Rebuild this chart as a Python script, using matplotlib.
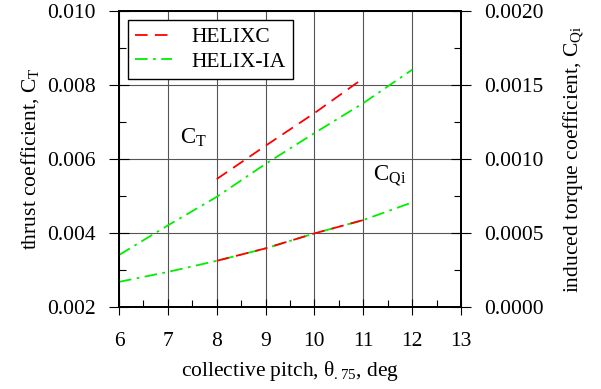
import matplotlib.pyplot as plt
from matplotlib.ticker import MultipleLocator, FormatStrFormatter

plt.rcParams["font.family"] = ["Liberation Serif", "DejaVu Serif"]
plt.rcParams["mathtext.fontset"] = "custom"
plt.rcParams["mathtext.rm"] = "Liberation Serif"
plt.rcParams["mathtext.it"] = "Liberation Serif"

# thrust coefficient (left axis)
pitch_c = [8, 9, 10, 11]
ct_helixc = [0.00545, 0.00635, 0.00723, 0.00817]
pitch_ia = [6, 7, 8, 9, 10, 11, 12]
ct_helixia = [0.00340, 0.00420, 0.00497, 0.00586, 0.00669, 0.00750, 0.00840]

# induced torque coefficient (right axis)
cq_helixc = [0.000311, 0.000395, 0.000496, 0.000586]
cq_helixia = [0.000169, 0.000236, 0.000311, 0.000395, 0.000496, 0.000586, 0.000705]

RED = "#ff0000"
GREEN = "#00ee00"
FS = 15.5

fig = plt.figure(figsize=(6.01, 3.89), dpi=100)
ax = fig.add_axes([0.198, 0.211, 0.569, 0.762])
ax2 = ax.twinx()

ax.plot(pitch_c, ct_helixc, color=RED, lw=1.3, dashes=(7, 4), label="HELIXC", zorder=3)
ax.plot(pitch_ia, ct_helixia, color=GREEN, lw=1.3, dashes=(7, 3, 1.5, 3), label="HELIX-IA", zorder=2)
ax2.plot(pitch_c, cq_helixc, color=RED, lw=1.3, dashes=(7, 4), zorder=3)
ax2.plot(pitch_ia, cq_helixia, color=GREEN, lw=1.3, dashes=(7, 3, 1.5, 3), zorder=2)

ax.set_xlim(6, 13)
ax.set_ylim(0.002, 0.010)
ax2.set_ylim(0.0, 0.002)

ax.xaxis.set_major_locator(MultipleLocator(1))
ax.xaxis.set_minor_locator(MultipleLocator(0.5))
ax.yaxis.set_major_locator(MultipleLocator(0.002))
ax.yaxis.set_minor_locator(MultipleLocator(0.001))
ax.yaxis.set_major_formatter(FormatStrFormatter("%.3f"))
ax2.yaxis.set_major_locator(MultipleLocator(0.0005))
ax2.yaxis.set_minor_locator(MultipleLocator(0.00025))
ax2.yaxis.set_major_formatter(FormatStrFormatter("%.4f"))

ax.grid(True, which="major", color="#555555", lw=0.8)
ax.set_axisbelow(True)

for a in (ax, ax2):
    a.tick_params(which="major", direction="inout", length=14, width=0.8, labelsize=FS, pad=10)
    a.tick_params(which="minor", direction="in", length=5, width=0.8)
    for s in a.spines.values():
        s.set_linewidth(1.3)
ax.tick_params(axis="x", which="major", length=12, pad=12)

ax.set_xlabel(r"collective pitch, $\theta_{.75}$, deg", fontsize=FS, labelpad=6)
ax.set_ylabel(r"thrust coefficient, C$_\mathrm{T}$", fontsize=FS, labelpad=4)
ax2.set_ylabel(r"induced torque coefficient, C$_\mathrm{Qi}$", fontsize=FS, labelpad=12)

ax.text(7.25, 0.0064, r"C$_\mathrm{T}$", fontsize=FS + 1)
ax.text(11.2, 0.00542, r"C$_\mathrm{Qi}$", fontsize=FS + 1)

leg = ax.legend(loc="upper left", fontsize=FS, frameon=True, fancybox=False,
                edgecolor="black", framealpha=1, borderpad=0.35, handlelength=1.7,
                handletextpad=0.9, borderaxespad=0, labelspacing=0.2,
                bbox_to_anchor=(0.026, 0.969))
leg.get_frame().set_linewidth(1.0)

fig.savefig("out.png", dpi=100)
